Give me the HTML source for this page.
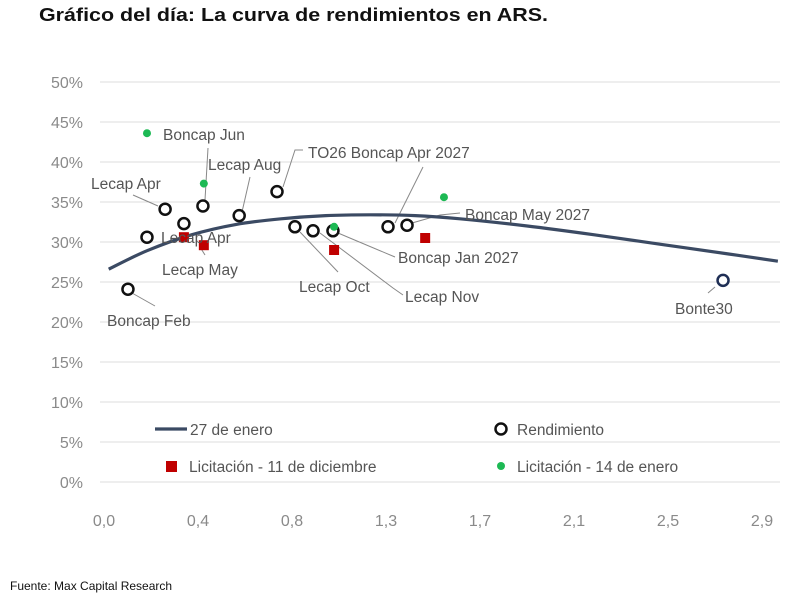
<!DOCTYPE html>
<html><head><meta charset="utf-8"><style>
html,body{margin:0;padding:0;background:#fff;}
svg{display:block;font-family:"Liberation Sans",sans-serif;}
</style></head><body>
<svg id="chart" width="800" height="608" viewBox="0 0 800 608">
<text x="39" y="21" font-size="18.5" font-weight="bold" fill="#111" textLength="509" lengthAdjust="spacingAndGlyphs">Gráfico del día: La curva de rendimientos en ARS.</text>
<g id="grid"></g><g id="yticks"></g><g id="xticks"></g>
<g id="leaders" stroke="#888" stroke-width="1" fill="none"></g>
<path id="curve" fill="none" stroke="#3b4a63" stroke-width="3.2"/>
<g id="marks"></g><g id="labels" font-size="15.5" fill="#555"></g>
<g font-size="15.5" fill="#555">
 <line x1="155" y1="429" x2="187" y2="429" stroke="#3b4a63" stroke-width="3.2"/>
 <text x="190" y="435">27 de enero</text>
 <circle cx="501" cy="429" r="5.5" fill="#fff" stroke="#111" stroke-width="2.5"/>
 <text x="517" y="435">Rendimiento</text>
 <rect x="166" y="461" width="11" height="11" fill="#c00000"/>
 <text x="189" y="472">Licitación - 11 de diciembre</text>
 <circle cx="501" cy="466" r="4" fill="#1db954"/>
 <text x="517" y="472">Licitación - 14 de enero</text>
</g>
<text x="10" y="590" font-size="12" fill="#111">Fuente: Max Capital Research</text>
</svg>
<script>
const yTicks=[0,5,10,15,20,25,30,35,40,45,50];
const xTickVals=[0,0.42,0.84,1.26,1.68,2.1,2.52,2.94];
const xTickLabels=["0,0","0,4","0,8","1,3","1,7","2,1","2,5","2,9"];
const curveX=[0.03,0.2,0.4,0.6,0.8,1.0,1.2,1.4,1.6,1.9,2.2,2.5,2.8,3.02];
const curveY=[26.6,28.9,30.9,32.2,32.9,33.3,33.4,33.3,32.9,32.0,30.9,29.7,28.5,27.6];
const rendX=[0.201,0.282,0.366,0.451,0.613,0.782,0.862,0.943,1.032,1.278,1.363,0.116,2.775];
const rendY=[30.6,34.1,32.3,34.5,33.3,36.3,31.9,31.4,31.4,31.9,32.1,24.1,25.2];
const dicX=[0.366,0.455,1.037,1.444];
const dicY=[30.6,29.6,29.0,30.5];
const eneX=[0.201,0.455,1.037,1.528];
const eneY=[43.6,37.3,31.9,35.6];
const NS="http://www.w3.org/2000/svg";
const xs=v=>102+v*223.8, ys=v=>482-v*8;
function mk(tag,parent,attrs){const e=document.createElementNS(NS,tag);for(const k in attrs)e.setAttribute(k,attrs[k]);document.getElementById(parent).appendChild(e);return e;}
yTicks.forEach(t=>{
 const g=mk('line','grid',{x1:100,x2:780,y1:ys(t),y2:ys(t),stroke:'#dcdcdc','stroke-width':1});
 
 
 const l=mk('text','yticks',{x:83,y:ys(t)+6,'text-anchor':'end','font-size':16,fill:'#8a8a8a'});
 l.textContent=t+'%';
 
 
});
xTickVals.forEach((v,i)=>{
 const l=mk('text','xticks',{x:xs(v)+2,y:526,'text-anchor':'middle','font-size':16,fill:'#8a8a8a'});
 l.textContent=xTickLabels[i];
 
 
});
const P=curveX.map((x,i)=>[xs(x),ys(curveY[i])]);
let d='M'+P[0][0]+' '+P[0][1];
for(let i=0;i<P.length-1;i++){const p0=P[Math.max(0,i-1)],p1=P[i],p2=P[i+1],p3=P[Math.min(P.length-1,i+2)];
 d+=` C${p1[0]+(p2[0]-p0[0])/6} ${p1[1]+(p2[1]-p0[1])/6} ${p2[0]-(p3[0]-p1[0])/6} ${p2[1]-(p3[1]-p1[1])/6} ${p2[0]} ${p2[1]}`;}
document.getElementById('curve').setAttribute('d',d);
const leaders=["133,195 158,206","208,148 205,200","250,177 242,212","303,150 295,150 283,187","423,167 395,223","205,255 200,247","338,272 300,232","403,295 393,288 320,233","395,257 338,233","155,306 132,293","715,287 708,293","460,213 440,215 412,223"];
leaders.forEach(p=>{const e=mk('polyline','leaders',{points:p});
 
 });
rendX.forEach((x,i)=>{
 const c=mk('circle','marks',{cx:xs(x),cy:ys(rendY[i]),r:5.5,fill:'#fff',stroke:i===12?'#1f2f55':'#111','stroke-width':2.5});
 
 
});
dicX.forEach((x,i)=>{
 const r=mk('rect','marks',{x:xs(x)-5,y:ys(dicY[i])-5,width:10,height:10,fill:'#c00000'});
 
 
});
eneX.forEach((x,i)=>{
 const c=mk('circle','marks',{cx:xs(x),cy:ys(eneY[i]),r:4,fill:'#1db954'});
 
 
});
const labs=[["Boncap Jun",163,140],["Lecap Aug",208,170],["TO26 Boncap Apr 2027",308,158],["Lecap Apr",91,189],["Boncap May 2027",465,220],["Lecap Apr",161,243],["Lecap May",162,275],["Boncap Jan 2027",398,263],["Lecap Oct",299,292],["Lecap Nov",405,302],["Boncap Feb",107,326],["Bonte30",675,314]];
labs.forEach(l=>{const t=mk('text','labels',{x:l[1],y:l[2]});t.textContent=l[0];
 
 });
</script>
</body></html>
